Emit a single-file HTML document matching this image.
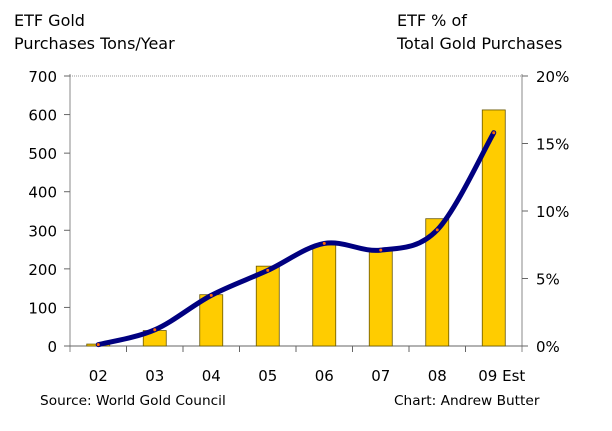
<!DOCTYPE html>
<html><head><meta charset="utf-8"><style>
body{margin:0;background:#fff}
svg text{font-family:"DejaVu Sans","Liberation Sans",sans-serif;fill:#000}
</style></head><body>
<svg id="chart" width="612" height="426" viewBox="0 0 612 426" xmlns="http://www.w3.org/2000/svg">
<g font-size="16">
<text x="14" y="26">ETF Gold</text><text x="14" y="49">Purchases Tons/Year</text></g>
<g font-size="16">
<text x="397" y="26">ETF % of</text><text x="397" y="49">Total Gold Purchases</text></g>
<text x="40" y="405" font-size="13.7">Source: World Gold Council</text>
<text x="394" y="405" font-size="13.7">Chart: Andrew Butter</text>
<g id="axes"></g><g id="bars"></g><g id="line"></g>
</svg>
<script>
const categories=["02","03","04","05","06","07","08","09 Est"];
const tons=[5,40,133,207,262,247,330,612];
const pct=[0.1,1.2,3.75,5.6,7.6,7.1,8.6,15.8];
const leftTicks=[0,100,200,300,400,500,600,700];
const rightTicks=[0,5,10,15,20];
const rightTickLabels=["0%","5%","10%","15%","20%"];
const L=70,R=522,T=76,B=346;
const yL=v=>B-(v/700)*(B-T);
const yR=v=>B-(v/20)*(B-T);
const bw=(R-L)/categories.length;
const xC=i=>L+bw*(i+0.5);
const NS="http://www.w3.org/2000/svg";
function mk(tag,attrs,parent,txt){const e=document.createElementNS(NS,tag);for(const k in attrs)e.setAttribute(k,attrs[k]);if(txt!==undefined)e.textContent=txt;parent.appendChild(e);return e;}
const ax=document.getElementById('axes');
let e;
e=mk('line',{x1:L,y1:T,x2:R,y2:T,stroke:'#999','stroke-dasharray':'1,1'},ax);


e=mk('line',{x1:L,y1:T-2,x2:L,y2:B+6,stroke:'#888'},ax);


e=mk('line',{x1:R,y1:T-2,x2:R,y2:B+6,stroke:'#888'},ax);


e=mk('line',{x1:L-6,y1:B,x2:R+6,y2:B,stroke:'#666'},ax);


leftTicks.forEach(v=>{
 mk('line',{x1:L-6,y1:yL(v),x2:L,y2:yL(v),stroke:'#666'},ax);
 e=mk('text',{x:L-13,y:yL(v)+6,'text-anchor':'end','font-size':'15'},ax,String(v));
 
 
});
rightTicks.forEach((v,i)=>{
 mk('line',{x1:R,y1:yR(v),x2:R+6,y2:yR(v),stroke:'#666'},ax);
 e=mk('text',{x:R+14,y:yR(v)+6,'font-size':'15'},ax,rightTickLabels[i]);
 
 
});
for(let i=1;i<categories.length;i++){mk('line',{x1:L+bw*i,y1:B,x2:L+bw*i,y2:B+6,stroke:'#666'},ax);}
categories.forEach((c,i)=>{
 e=mk('text',{x:xC(i)+(i===7?8:0),y:381,'text-anchor':'middle','font-size':'15'},ax,c);
 
 
});
const bg=document.getElementById('bars');
tons.forEach((v,i)=>{
 e=mk('rect',{x:xC(i)-11.5,y:yL(v),width:23,height:B-yL(v),fill:'#FFCC00',stroke:'#665500','stroke-width':'0.8'},bg);
 
 
});
const pts=pct.map((v,i)=>[xC(i),yR(v)]);
let d='M'+pts[0][0]+','+pts[0][1];
for(let i=0;i<pts.length-1;i++){
 const p0=pts[Math.max(i-1,0)],p1=pts[i],p2=pts[i+1],p3=pts[Math.min(i+2,pts.length-1)];
 const c1=[p1[0]+(p2[0]-p0[0])/6,p1[1]+(p2[1]-p0[1])/6],c2=[p2[0]-(p3[0]-p1[0])/6,p2[1]-(p3[1]-p1[1])/6];
 d+=' C'+c1+' '+c2+' '+p2;
}
const lg=document.getElementById('line');
e=mk('path',{d:d,fill:'none',stroke:'#000080','stroke-width':'5','stroke-linecap':'round'},lg);


pts.forEach(p=>{
 e=mk('circle',{cx:p[0],cy:p[1],r:1.5,fill:'#ff6600'},lg);
 
 
});
</script>
</body></html>
